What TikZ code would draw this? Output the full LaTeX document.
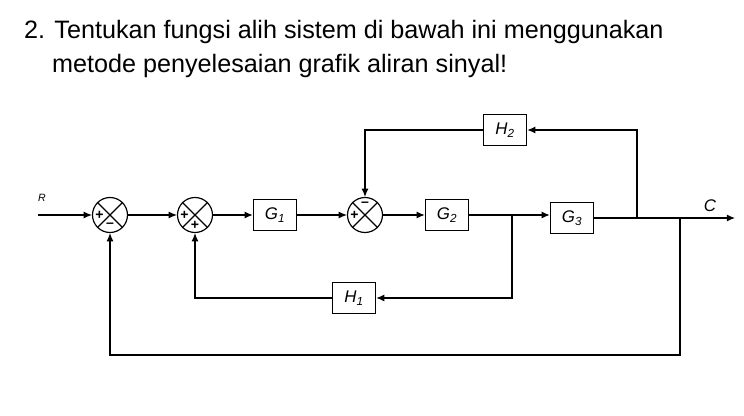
\documentclass[tikz,border=0pt]{standalone}
\usepackage{fontspec}
\setmainfont{Liberation Sans}
\usetikzlibrary{arrows.meta}
\begin{document}
\begin{tikzpicture}[x=0.03cm,y=-0.03cm,
  blk/.style={draw,line width=1pt,inner sep=0pt,minimum height=0.95cm,minimum width=1.3cm,font=\itshape\Large},
  sumj/.style={draw,line width=1pt,circle,minimum size=1.05cm,inner sep=0pt},
  sig/.style={line width=1pt,-{Latex[length=7pt,width=6pt]}},
  ln/.style={line width=1pt},
  sg/.style={font=\large\bfseries,inner sep=0pt}]
\useasboundingbox (0,0) rectangle (744,416);
\node[anchor=west,font=\fontsize{21.5}{24}\selectfont] (t1) at (20,32) {2. Tentukan fungsi alih sistem di bawah ini menggunakan};
\node[anchor=west,font=\fontsize{21.5}{24}\selectfont] (t2) at (48,66) {metode penyelesaian grafik aliran sinyal!};
\node[sumj] (s1) at (110,215) {};
\node[sumj] (s2) at (195,215) {};
\node[sumj] (s3) at (365,215) {};
\foreach \s in {s1,s2,s3}{\draw[ln] (\s.north west)--(\s.south east) (\s.north east)--(\s.south west);}
\node[sg] (p1) at ([xshift=-9]s1.center) {+};
\node[sg] (m1) at ([yshift=-9]s1.center) {–};
\node[sg] (p2) at ([xshift=-9]s2.center) {+};
\node[sg] (p3) at ([yshift=-9]s2.center) {+};
\node[sg] (p4) at ([xshift=-9]s3.center) {+};
\node[sg] (m3) at ([yshift=9]s3.center) {–};
\node[blk] (g1) at (275,215) {G\textsubscript{1}};
\node[blk] (g2) at (447,215) {G\textsubscript{2}};
\node[blk] (g3) at (572,218) {G\textsubscript{3}};
\node[blk] (h1) at (354,298) {H\textsubscript{1}};
\node[blk] (h2) at (505,130) {H\textsubscript{2}};
\coordinate (r) at (38,215);
\node[font=\itshape\small] (rl) at (42,198) {R};
\coordinate (c) at (735,218);
\node[font=\itshape\Large] (cl) at (710,206) {C};
\coordinate (b1) at (512,215);
\coordinate (b2) at (637,218);
\coordinate (b3) at (680,218);
\draw[sig] (r) -- (s1);
\draw[sig] (s1) -- (s2);
\draw[sig] (s2) -- (g1);
\draw[sig] (g1) -- (s3);
\draw[sig] (s3) -- (g2);
\draw[ln] (g2) -- (b1);
\draw[sig] (b1) -- (g3.west|-b1);
\draw[sig] (g3.east|-b2) -- (c);
\draw[sig] (b1) |- (h1);
\draw[sig] (h1) -| (s2);
\draw[sig] (b2) |- (h2);
\draw[sig] (h2) -| (s3);
\draw[sig] (b3) |- (s1|-0,355) -- (s1);
\end{tikzpicture}
\end{document}
